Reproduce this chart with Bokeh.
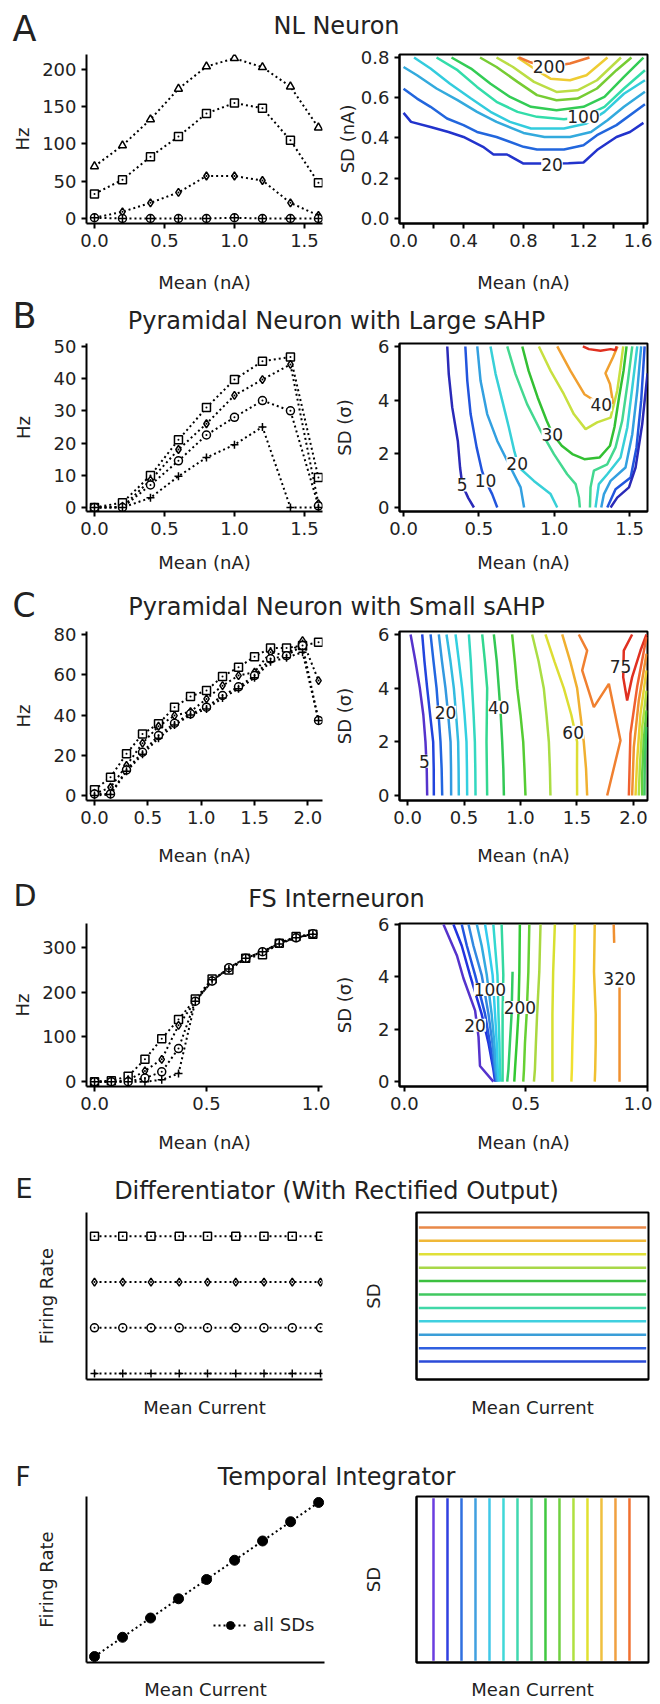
from bokeh.plotting import figure
from bokeh.layouts import column, row
from bokeh.models import (Range1d, Label, Legend, LegendItem, FixedTicker,
                          NumeralTickFormatter)
from bokeh.embed import file_html
from bokeh.resources import INLINE

FONT = "DejaVu Sans"
INK = "#222222"

# ---------------- A: NL Neuron ----------------
A_mean = [0.0, 0.2, 0.4, 0.6, 0.8, 1.0, 1.2, 1.4, 1.6]
A_tri = [70, 98, 133, 174, 204, 215, 203, 177, 122]
A_sq = [33, 52, 83, 110, 141, 155, 148, 105, 48]
A_dia = [1, 9, 21, 35, 57, 57, 51, 21, 4]
A_circ = [1, 0, 0, 0, 0, 1, 0, 0, 0]

A_colors = ["#2233cc", "#2266dd", "#33aadd", "#33ccdd", "#33ddaa",
            "#33cc55", "#77cc33", "#bbdd44", "#eecc33", "#ee7733"]
A_cx = [
    [0, 0.05, 0.18, 0.3, 0.4, 0.53, 0.6, 0.69, 0.8, 0.9, 1.0, 1.1, 1.2, 1.29, 1.42, 1.51, 1.6],
    [0, 0.09, 0.18, 0.29, 0.4, 0.49, 0.62, 0.8, 0.89, 1.07, 1.2, 1.29, 1.42, 1.61],
    [0, 0.09, 0.22, 0.36, 0.49, 0.62, 0.8, 0.94, 1.11, 1.25, 1.36, 1.47, 1.61],
    [0.07, 0.18, 0.31, 0.45, 0.58, 0.71, 0.85, 1.07, 1.22, 1.34, 1.47, 1.61],
    [0.22, 0.36, 0.49, 0.62, 0.76, 0.89, 1.07, 1.2, 1.34, 1.47, 1.61],
    [0.32, 0.45, 0.58, 0.71, 0.85, 1.02, 1.2, 1.34, 1.47, 1.6],
    [0.51, 0.62, 0.76, 0.89, 1.02, 1.16, 1.29, 1.42, 1.52],
    [0.62, 0.73, 0.87, 1.02, 1.16, 1.29, 1.45],
    [0.76, 0.87, 0.98, 1.11, 1.22, 1.36],
    [0.77, 0.84, 0.96, 1.11, 1.24],
]
A_cy = [
    [0.525, 0.48, 0.455, 0.43, 0.405, 0.356, 0.318, 0.318, 0.273, 0.273, 0.273, 0.275, 0.278, 0.34, 0.405, 0.43, 0.475],
    [0.645, 0.596, 0.555, 0.497, 0.464, 0.43, 0.405, 0.356, 0.343, 0.343, 0.364, 0.414, 0.464, 0.568],
    [0.753, 0.712, 0.646, 0.588, 0.53, 0.48, 0.425, 0.405, 0.405, 0.43, 0.488, 0.555, 0.63],
    [0.80, 0.745, 0.67, 0.596, 0.53, 0.48, 0.447, 0.447, 0.472, 0.53, 0.62, 0.687],
    [0.80, 0.737, 0.654, 0.58, 0.53, 0.505, 0.493, 0.505, 0.555, 0.646, 0.737],
    [0.80, 0.745, 0.67, 0.604, 0.555, 0.538, 0.555, 0.604, 0.704, 0.80],
    [0.80, 0.753, 0.679, 0.613, 0.588, 0.596, 0.646, 0.737, 0.80],
    [0.80, 0.753, 0.679, 0.629, 0.637, 0.687, 0.80],
    [0.80, 0.745, 0.695, 0.687, 0.712, 0.80],
    [0.80, 0.778, 0.753, 0.77, 0.80],
]
A_lab = ["20", "100", "200"]
A_lab_x = [0.99, 1.2, 0.97]
A_lab_y = [0.268, 0.505, 0.753]

# ---------------- B: Pyramidal, large sAHP ----------------
B_mean = [0.0, 0.2, 0.4, 0.6, 0.8, 1.0, 1.2, 1.4, 1.6]
B_sq = [0, 1.5, 9.9, 21, 31, 39.7, 45.4, 46.7, 9.3]
B_dia = [0, 0.2, 8.5, 18, 26, 34.8, 39.7, 44.4, 1.2]
B_circ = [0, 0, 7, 14.5, 22.5, 28, 33.2, 30, 0.5]
B_plus = [0, 0, 3, 9.7, 15.5, 19.5, 25, 0, 0]

B_colors = ["#2a2ab8", "#2255dd", "#33a0e0", "#38d0d8", "#44d890", "#33c033",
            "#c8e040", "#f0a030", "#e03020",
            "#44d890", "#38d0d8", "#33a0e0", "#2255dd", "#2a2ab8"]
B_cx = [
    [0.29, 0.30, 0.323, 0.36, 0.375, 0.39, 0.43, 0.467],
    [0.41, 0.423, 0.445, 0.485, 0.52, 0.544, 0.588, 0.622],
    [0.489, 0.511, 0.555, 0.622, 0.71, 0.777, 0.8],
    [0.577, 0.611, 0.655, 0.699, 0.735, 0.765, 0.865, 0.976, 1.02],
    [0.688, 0.743, 0.82, 0.909, 0.998, 1.086, 1.142, 1.164, 1.17],
    [0.788, 0.83, 0.89, 0.95, 0.99, 1.05, 1.12, 1.2, 1.3, 1.37, 1.40, 1.43, 1.46, 1.48],
    [0.898, 0.976, 1.064, 1.13, 1.208, 1.285, 1.374, 1.418, 1.44, 1.458],
    [1.02, 1.108, 1.2, 1.31, 1.39, 1.37, 1.34, 1.39, 1.42],
    [1.19, 1.23, 1.307, 1.374, 1.407, 1.414],
    [1.518, 1.489, 1.451, 1.407, 1.352, 1.263, 1.241, 1.237],
    [1.551, 1.518, 1.485, 1.44, 1.352, 1.296, 1.274],
    [1.577, 1.551, 1.518, 1.473, 1.374, 1.33, 1.312],
    [1.6, 1.577, 1.546, 1.507, 1.407, 1.352],
    [1.619, 1.584, 1.54, 1.496, 1.418, 1.374],
]
B_cy = [
    [6.0, 4.97, 3.73, 2.48, 1.49, 0.84, 0.35, 0],
    [6.0, 4.72, 3.48, 2.24, 1.37, 0.99, 0.5, 0],
    [6.0, 4.72, 3.48, 2.48, 1.49, 0.75, 0],
    [6.0, 4.97, 3.98, 2.98, 2.1, 1.5, 0.99, 0.5, 0],
    [6.0, 4.97, 3.85, 2.86, 1.99, 1.24, 0.87, 0.37, 0],
    [6.0, 5.09, 4.1, 3.23, 2.73, 2.3, 1.99, 1.8, 1.86, 2.3, 3.0, 4.1, 5.09, 6.0],
    [6.0, 5.09, 4.22, 3.48, 2.92, 3.17, 3.35, 4.35, 5.22, 6.0],
    [6.0, 5.09, 4.22, 3.83, 3.9, 4.6, 5.0, 5.6, 6.0],
    [6.0, 5.9, 5.84, 5.9, 5.86, 6.0],
    [6.0, 4.72, 3.23, 2.24, 1.61, 1.37, 0.75, 0],
    [6.0, 4.47, 2.98, 1.86, 1.24, 0.87, 0],
    [6.0, 4.35, 2.73, 1.49, 0.99, 0.5, 0],
    [6.0, 3.98, 2.24, 1.12, 0.68, 0],
    [5.0, 3.11, 1.49, 0.75, 0.37, 0],
]
B_lab = ["5", "10", "20", "30", "40"]
B_lab_x = [0.389, 0.544, 0.754, 0.987, 1.312]
B_lab_y = [0.84, 0.99, 1.64, 2.73, 3.83]

# ---------------- C: Pyramidal, small sAHP ----------------
C_mean = [0.0, 0.15, 0.3, 0.45, 0.6, 0.75, 0.9, 1.05, 1.2, 1.35, 1.5, 1.65, 1.8, 1.95, 2.1]
C_sq = [2.8, 9.1, 20.7, 30.6, 35.6, 43.9, 49.2, 52.2, 59.1, 63.7, 69.0, 73.3, 73.3, 74.5, 76.2]
C_dia = [0.8, 4.1, 14.9, 26.0, 34.4, 39.7, 41.7, 48.0, 54.6, 59.6, 61.3, 71.2, 69.5, 77.0, 57.1]
C_circ = [0.8, 0.8, 12.7, 21.5, 29.8, 35.9, 40.6, 43.9, 49.7, 54.0, 59.6, 67.9, 69.5, 74.5, 37.3]
C_plus = [0.0, 0.5, 12.0, 20.5, 28.5, 35.0, 40.0, 43.0, 48.5, 53.0, 58.5, 66.5, 68.5, 71.2, 37.3]

C_colors = ["#5533cc", "#2244dd", "#2266e0", "#3399e0", "#33bbe0", "#33d0e0",
            "#33d8c0", "#33d890", "#33c855", "#55cc33", "#aadd44", "#dddd33",
            "#f0b030", "#f08030", "#e03020",
            "#f06030", "#f09030", "#e8d030", "#b0e040", "#60d040", "#40c860"]
C_cx = [
    [0.027, 0.07, 0.109, 0.14, 0.159, 0.17, 0.174],
    [0.130, 0.15, 0.174, 0.20, 0.227, 0.232, 0.233],
    [0.204, 0.23, 0.257, 0.275, 0.292, 0.302, 0.307],
    [0.277, 0.305, 0.336, 0.36, 0.381, 0.385, 0.386],
    [0.345, 0.38, 0.410, 0.43, 0.448, 0.452, 0.454],
    [0.425, 0.455, 0.484, 0.505, 0.522, 0.526, 0.528],
    [0.543, 0.56, 0.572, 0.585, 0.596, 0.60, 0.602],
    [0.661, 0.685, 0.705, 0.702, 0.699, 0.702, 0.705],
    [0.764, 0.79, 0.808, 0.825, 0.838, 0.848, 0.853],
    [0.926, 0.95, 0.971, 1.0, 1.024, 1.035, 1.044],
    [1.103, 1.16, 1.206, 1.23, 1.251, 1.26, 1.265],
    [1.221, 1.30, 1.383, 1.45, 1.501, 1.50, 1.501],
    [1.369, 1.44, 1.501, 1.53, 1.560, 1.58, 1.590],
    [1.516, 1.59, 1.546, 1.649, 1.782, 1.885, 1.767],
    [1.988, 1.914, 1.909, 1.944, 1.988, 2.062, 2.115],
    [2.115, 2.032, 1.973, 1.959],
    [2.115, 2.047, 2.003, 1.988],
    [2.115, 2.062, 2.032, 2.018],
    [2.115, 2.077, 2.056, 2.047],
    [2.115, 2.091, 2.077, 2.077],
    [2.115, 2.1, 2.097],
]
C_cy = [
    [6, 5, 4, 3, 2, 1, 0],
    [6, 5, 4, 3, 2, 1, 0],
    [6, 5, 4, 3, 2, 1, 0],
    [6, 5, 4, 3, 2, 1, 0],
    [6, 5, 4, 3, 2, 1, 0],
    [6, 5, 4, 3, 2, 1, 0],
    [6, 5, 4, 3, 2, 1, 0],
    [6, 5, 4, 3, 2, 1, 0],
    [6, 5, 4, 3, 2, 1, 0],
    [6, 5, 4, 3, 2, 1, 0],
    [6, 5, 4, 3, 2, 1, 0],
    [6, 5, 4, 3, 2, 1, 0],
    [6, 5, 4, 3, 2, 1, 0],
    [6.0, 5.4, 4.66, 3.29, 4.16, 2.05, 0],
    [6.0, 5.4, 4.41, 3.54, 4.41, 5.4, 6.0],
    [5.9, 4.04, 2.3, 0],
    [5.28, 3.54, 1.8, 0],
    [4.66, 3.04, 1.3, 0],
    [3.91, 2.55, 1.06, 0],
    [3.17, 2.05, 0.81, 0],
    [2.55, 1.3, 0],
]
C_lab = ["5", "20", "40", "60", "75"]
C_lab_x = [0.15, 0.336, 0.808, 1.466, 1.885]
C_lab_y = [1.28, 3.1, 3.29, 2.36, 4.81]

# ---------------- D: FS Interneuron ----------------
D_mean = [0.0, 0.075, 0.15, 0.225, 0.3, 0.375, 0.45, 0.525, 0.6, 0.675, 0.75, 0.825, 0.9, 0.975]
D_sq = [0, 2, 12, 50, 96, 139, 185, 230, 250, 276, 284, 310, 325, 330]
D_dia = [0, 0, 3, 24, 50, 126, 180, 225, 255, 276, 291, 310, 322, 330]
D_circ = [0, 0, 0, 8, 22, 74, 180, 225, 255, 276, 291, 310, 322, 331]
D_plus = [0, 0, 0, 0, 4, 18, 180, 228, 252, 276, 291, 308, 322, 330]

D_colors = ["#5533cc", "#2233dd", "#2255e0", "#3388e0", "#33aae0", "#33ccee",
            "#33d8d0", "#33d8a0", "#33cc66", "#33c833", "#66d033", "#aad840",
            "#d8e030", "#f0e030", "#f0c030", "#f09030", "#f09030"]
D_cx = [
    [0.161, 0.216, 0.243, 0.291, 0.305, 0.311, 0.366],
    [0.202, 0.236, 0.270, 0.318, 0.346, 0.366, 0.373],
    [0.236, 0.257, 0.291, 0.332, 0.352, 0.369, 0.376],
    [0.264, 0.284, 0.318, 0.346, 0.362, 0.373, 0.380],
    [0.298, 0.318, 0.339, 0.359, 0.370, 0.377, 0.384],
    [0.332, 0.346, 0.363, 0.373, 0.380, 0.384, 0.389],
    [0.366, 0.373, 0.383, 0.387, 0.391, 0.393, 0.396],
    [0.400, 0.403, 0.407, 0.404, 0.404, 0.404, 0.404],
    [0.445, 0.441, 0.434, 0.428, 0.423],
    [0.475, 0.473, 0.469, 0.462, 0.455, 0.452],
    [0.514, 0.510, 0.503, 0.496, 0.492, 0.489],
    [0.560, 0.555, 0.546, 0.541, 0.537, 0.533],
    [0.619, 0.612, 0.609, 0.609, 0.609, 0.609],
    [0.701, 0.698, 0.694, 0.691, 0.689, 0.687],
    [0.783, 0.780, 0.787, 0.787, 0.785, 0.783],
    [0.861, 0.863],
    [0.885, 0.885, 0.885],
]
D_cy = [
    [6.0, 4.82, 3.95, 2.71, 1.71, 0.60, 0],
    [6.0, 5.19, 4.07, 2.58, 1.47, 0.47, 0],
    [6.0, 5.19, 4.07, 2.58, 1.47, 0.47, 0],
    [6.0, 5.19, 4.07, 2.58, 1.47, 0.47, 0],
    [6.0, 5.19, 4.07, 2.58, 1.47, 0.47, 0],
    [6.0, 5.19, 4.07, 2.58, 1.47, 0.47, 0],
    [6.0, 5.19, 4.07, 2.58, 1.47, 0.47, 0],
    [6.0, 5.19, 4.07, 2.58, 1.47, 0.47, 0],
    [4.2, 2.58, 1.47, 0.47, 0],
    [6.0, 4.2, 2.58, 1.47, 0.47, 0],
    [6.0, 4.2, 2.58, 1.47, 0.47, 0],
    [6.0, 4.2, 2.58, 1.47, 0.47, 0],
    [6.0, 4.2, 2.58, 1.47, 0.47, 0],
    [6.0, 4.2, 2.58, 1.47, 0.47, 0],
    [6.0, 4.2, 2.58, 1.47, 0.47, 0],
    [6.0, 5.3],
    [3.6, 1.5, 0],
]
D_lab = ["100", "200", "20", "320"]
D_lab_x = [0.352, 0.475, 0.291, 0.885]
D_lab_y = [3.52, 2.83, 2.15, 3.95]

# ---------------- E: Differentiator ----------------
E_mean = [0, 1, 2, 3, 4, 5, 6, 7, 8]
E_sq = [3, 3, 3, 3, 3, 3, 3, 3, 3]
E_dia = [2, 2, 2, 2, 2, 2, 2, 2, 2]
E_circ = [1, 1, 1, 1, 1, 1, 1, 1, 1]
E_plus = [0, 0, 0, 0, 0, 0, 0, 0, 0]
E_sd_levels = [1, 2, 3, 4, 5, 6, 7, 8, 9, 10, 11]
E_colors = ["#2b4bd8", "#2f5fe0", "#3a9ed8", "#40d0e0", "#40d8a8", "#40c860",
            "#3cc040", "#a8d848", "#e0e038", "#f0b838", "#e88848"]
E_span = [0.01, 0.99]

# ---------------- F: Temporal Integrator ----------------
F_mean = [0, 1, 2, 3, 4, 5, 6, 7, 8]
F_rate = [0, 1, 2, 3, 4, 5, 6, 7, 8]
F_mean_levels = [1, 2, 3, 4, 5, 6, 7, 8, 9, 10, 11, 12, 13, 14, 15]
F_colors = ["#6a3ee0", "#3040e0", "#3070e0", "#40a0e0", "#40c8e8", "#40d8d8",
            "#40d8b0", "#50d080", "#40c840", "#70d040", "#b0e040", "#e0e030",
            "#f0c040", "#f0a040", "#f07030"]
F_span = [0.01, 0.99]


# ---------------- helpers ----------------
def style_axis(ax, ticks=True):
    ax.axis_line_width = 2
    ax.axis_line_color = "black"
    ax.major_tick_line_width = 2
    ax.major_tick_line_color = "black"
    ax.major_tick_out = 5 if ticks else 0
    ax.major_tick_in = 0
    ax.minor_tick_line_color = None
    ax.major_label_text_font = FONT
    ax.major_label_text_font_size = "18px"
    ax.major_label_text_color = INK
    ax.major_label_standoff = 5
    ax.axis_label_text_font = FONT
    ax.axis_label_text_font_size = "18px"
    ax.axis_label_text_font_style = "normal"
    ax.axis_label_text_color = INK


def make_plot(width, height, xr, yr, bl, br, bt, bb, box):
    p = figure(width=width, height=height, title=None,
               x_range=Range1d(xr[0], xr[1]), y_range=Range1d(yr[0], yr[1]),
               toolbar_location=None, output_backend="svg",
               min_border_left=bl, min_border_right=br,
               min_border_top=bt, min_border_bottom=bb)
    p.xgrid.visible = False
    p.ygrid.visible = False
    p.outline_line_color = "black" if box else None
    p.outline_line_width = 2
    p.background_fill_color = "white"
    p.border_fill_color = "white"
    return p


def header(h, letter, lsize, lx, ly, title, ty):
    p = figure(width=652, height=h, title=None,
               x_range=Range1d(0, 652), y_range=Range1d(h, 0),
               toolbar_location=None, output_backend="svg", min_border=0,
               x_axis_type=None, y_axis_type=None, outline_line_color=None)
    p.add_layout(Label(x=lx, y=ly, text=letter, text_font=FONT,
                       text_font_size=f"{lsize}px", text_color=INK,
                       text_baseline="middle"))
    p.add_layout(Label(x=336, y=ty, text=title, text_font=FONT,
                       text_font_size="24px", text_color=INK,
                       text_align="center", text_baseline="middle"))
    return p


def dotted(p, x, y):
    return p.line(x, y, line_color="black", line_width=2, line_dash="2 3")


def marks(p, x, y, marker, size=8):
    return p.scatter(x, y, marker=marker, size=size, line_color="black",
                     fill_color="white", line_width=1.5)


def left_panel(h, xr, yr, bt, bb, xticks, yticks, y_standoff, x_standoff,
               series, br=8):
    p = make_plot(330, h, xr, yr, 86, br, bt, bb, False)
    style_axis(p.xaxis[0])
    style_axis(p.yaxis[0])
    p.xaxis.ticker = FixedTicker(ticks=xticks)
    p.xaxis.formatter = NumeralTickFormatter(format="0.0")
    p.yaxis.ticker = FixedTicker(ticks=yticks)
    p.xaxis.axis_label = "Mean (nA)"
    p.yaxis.axis_label = "Hz"
    p.yaxis.axis_label_standoff = y_standoff
    p.xaxis.axis_label_standoff = x_standoff
    for x, y, m in series:
        dotted(p, x, y)
    for x, y, m in series:
        marks(p, x, y, m)
    return p


def contour_panel(h, xr, yr, bt, bb, xticks, xminor, yticks, yfmt, ylabel,
                  y_standoff, x_standoff, cx, cy, colors, labs, lx, ly):
    p = make_plot(322, h, xr, yr, 69, 5, bt, bb, True)
    style_axis(p.xaxis[0])
    style_axis(p.yaxis[0])
    p.xaxis.ticker = FixedTicker(ticks=xticks, minor_ticks=xminor)
    if xminor:
        p.xaxis.minor_tick_line_color = "black"
        p.xaxis.minor_tick_line_width = 2
        p.xaxis.minor_tick_out = 5
        p.xaxis.minor_tick_in = 0
    p.xaxis.formatter = NumeralTickFormatter(format="0.0")
    p.yaxis.ticker = FixedTicker(ticks=yticks)
    p.yaxis.formatter = NumeralTickFormatter(format=yfmt)
    p.xaxis.axis_label = "Mean (nA)"
    p.yaxis.axis_label = ylabel
    p.yaxis.axis_label_standoff = y_standoff
    p.xaxis.axis_label_standoff = x_standoff
    p.multi_line(xs=cx, ys=cy, line_color=colors, line_width=2.5)
    for t, x, y in zip(labs, lx, ly):
        p.add_layout(Label(x=x, y=y, text=t, text_font=FONT, text_font_size="17px",
                           text_color=INK, text_align="center", text_baseline="middle",
                           background_fill_color="white"))
    return p


# ---------------- Row A ----------------
hA = header(48, "A", 35, 12, 28, "NL Neuron", 25.5)
pA1 = left_panel(247, (-0.057, 1.629), (-6.7, 220.1), 6, 72,
                 [0, 0.5, 1.0, 1.5], [0, 50, 100, 150, 200], 6, 22,
                 [(A_mean, A_tri, "triangle"), (A_mean, A_sq, "square_dot"),
                  (A_mean, A_dia, "diamond_dot"), (A_mean, A_circ, "circle_cross")])
pA2 = contour_panel(247, (-0.027, 1.627), (-0.025, 0.815), 6, 72,
                    [0, 0.4, 0.8, 1.2, 1.6], [0.2, 0.6, 1.0, 1.4],
                    [0, 0.2, 0.4, 0.6, 0.8], "0.0", "SD (nA)", 0, 22,
                    A_cx, A_cy, A_colors, A_lab, A_lab_x, A_lab_y)

# ---------------- Row B ----------------
hB = header(40, "B", 35, 12, 20, "Pyramidal Neuron with Large sAHP", 25)
pB1 = left_panel(245, (-0.057, 1.629), (-1.24, 50.9), 8, 69,
                 [0, 0.5, 1.0, 1.5], [0, 10, 20, 30, 40, 50], 17, 14,
                 [(B_mean, B_sq, "square_dot"), (B_mean, B_dia, "diamond_dot"),
                  (B_mean, B_circ, "circle_dot"), (B_mean, B_plus, "cross")])
pB2 = contour_panel(245, (-0.027, 1.619), (-0.149, 6.11), 8, 69,
                    [0, 0.5, 1.0, 1.5], [], [0, 2, 4, 6], "0", "SD (σ)", 20, 14,
                    B_cx, B_cy, B_colors, B_lab, B_lab_x, B_lab_y)

# ---------------- Row C ----------------
hC = header(45, "C", 33, 12, 25, "Pyramidal Neuron with Small sAHP", 26.5)
pC1 = left_panel(245, (-0.075, 2.137), (-2.48, 81.5), 6, 70,
                 [0, 0.5, 1.0, 1.5, 2.0], [0, 20, 40, 60, 80], 17, 18,
                 [(C_mean, C_sq, "square_dot"), (C_mean, C_dia, "diamond_dot"),
                  (C_mean, C_circ, "circle_dot"), (C_mean, C_plus, "cross")])
pC2 = contour_panel(245, (-0.071, 2.124), (-0.186, 6.11), 6, 70,
                    [0, 0.5, 1.0, 1.5, 2.0], [], [0, 2, 4, 6], "0", "SD (σ)", 20, 18,
                    C_cx, C_cy, C_colors, C_lab, C_lab_x, C_lab_y)

# ---------------- Row D ----------------
hD = header(43, "D", 30, 13, 25, "FS Interneuron", 28)
pD1 = left_panel(242, (-0.036, 1.018), (-10.9, 354), 10, 64,
                 [0, 0.5, 1.0], [0, 100, 200, 300], 6, 19,
                 [(D_mean, D_sq, "square_dot"), (D_mean, D_dia, "diamond_dot"),
                  (D_mean, D_circ, "circle_dot"), (D_mean, D_plus, "cross")])
pD2 = contour_panel(242, (-0.02, 1.0), (-0.185, 6.04), 10, 64,
                    [0, 0.5, 1.0], [], [0, 2, 4, 6], "0", "SD (σ)", 20, 19,
                    D_cx, D_cy, D_colors, D_lab, D_lab_x, D_lab_y)

# ---------------- Row E ----------------
hE = header(50, "E", 27, 15, 32.5, "Differentiator (With Rectified Output)", 35)
pE1 = make_plot(330, 215, (-0.283, 8.07), (-0.13, 3.52), 86, 8, 7, 40, False)
style_axis(pE1.xaxis[0], ticks=False)
style_axis(pE1.yaxis[0], ticks=False)
pE1.xaxis.ticker = FixedTicker(ticks=[])
pE1.yaxis.ticker = FixedTicker(ticks=[])
pE1.xaxis.axis_label = "Mean Current"
pE1.yaxis.axis_label = "Firing Rate"
pE1.xaxis.axis_label_standoff = 17
pE1.yaxis.axis_label_standoff = 30
E_series = [(E_mean, E_sq, "square_dot"), (E_mean, E_dia, "diamond_dot"),
            (E_mean, E_circ, "circle_dot"), (E_mean, E_plus, "cross")]
for x, y, m in E_series:
    dotted(pE1, x, y)
for x, y, m in E_series:
    marks(pE1, x, y, m)

pE2 = make_plot(322, 215, (0, 1), (-0.333, 12.11), 86, 4, 7, 40, True)
style_axis(pE2.xaxis[0], ticks=False)
style_axis(pE2.yaxis[0], ticks=False)
pE2.xaxis.ticker = FixedTicker(ticks=[])
pE2.yaxis.ticker = FixedTicker(ticks=[])
pE2.xaxis.axis_label = "Mean Current"
pE2.yaxis.axis_label = "SD"
pE2.xaxis.axis_label_standoff = 17
pE2.yaxis.axis_label_standoff = 33
pE2.multi_line(xs=[E_span for _ in E_sd_levels], ys=[[v, v] for v in E_sd_levels],
               line_color=E_colors, line_width=2.5)

# ---------------- Row F ----------------
hF = header(71, "F", 26, 15, 56, "Temporal Integrator", 56.5)
pF1 = make_plot(330, 211, (-0.286, 8.21), (-0.31, 8.31), 86, 6, 5, 38, False)
style_axis(pF1.xaxis[0], ticks=False)
style_axis(pF1.yaxis[0], ticks=False)
pF1.xaxis.ticker = FixedTicker(ticks=[])
pF1.yaxis.ticker = FixedTicker(ticks=[])
pF1.xaxis.axis_label = "Mean Current"
pF1.yaxis.axis_label = "Firing Rate"
pF1.xaxis.axis_label_standoff = 16
pF1.yaxis.axis_label_standoff = 30
rl = dotted(pF1, F_mean, F_rate)
rm = pF1.scatter(F_mean, F_rate, marker="circle", size=10, line_color="black",
                 fill_color="black")
leg = Legend(items=[LegendItem(label="all SDs", renderers=[rl, rm])],
             location=(127, 27), border_line_color=None, background_fill_alpha=0,
             padding=0, margin=0, glyph_width=34, glyph_height=20, label_standoff=6,
             label_text_font=FONT, label_text_font_size="18px",
             label_text_color=INK, spacing=0)
pF1.add_layout(leg)

pF2 = make_plot(322, 211, (-0.214, 16.36), (0, 1), 86, 4, 5, 38, True)
style_axis(pF2.xaxis[0], ticks=False)
style_axis(pF2.yaxis[0], ticks=False)
pF2.xaxis.ticker = FixedTicker(ticks=[])
pF2.yaxis.ticker = FixedTicker(ticks=[])
pF2.xaxis.axis_label = "Mean Current"
pF2.yaxis.axis_label = "SD"
pF2.xaxis.axis_label_standoff = 16
pF2.yaxis.axis_label_standoff = 33
pF2.multi_line(xs=[[v, v] for v in F_mean_levels], ys=[F_span for _ in F_mean_levels],
               line_color=F_colors, line_width=2.5)

layout = column(hA, row(pA1, pA2), hB, row(pB1, pB2), hC, row(pC1, pC2),
                hD, row(pD1, pD2), hE, row(pE1, pE2), hF, row(pF1, pF2))

open("out.html", "w").write(file_html(layout, INLINE))
